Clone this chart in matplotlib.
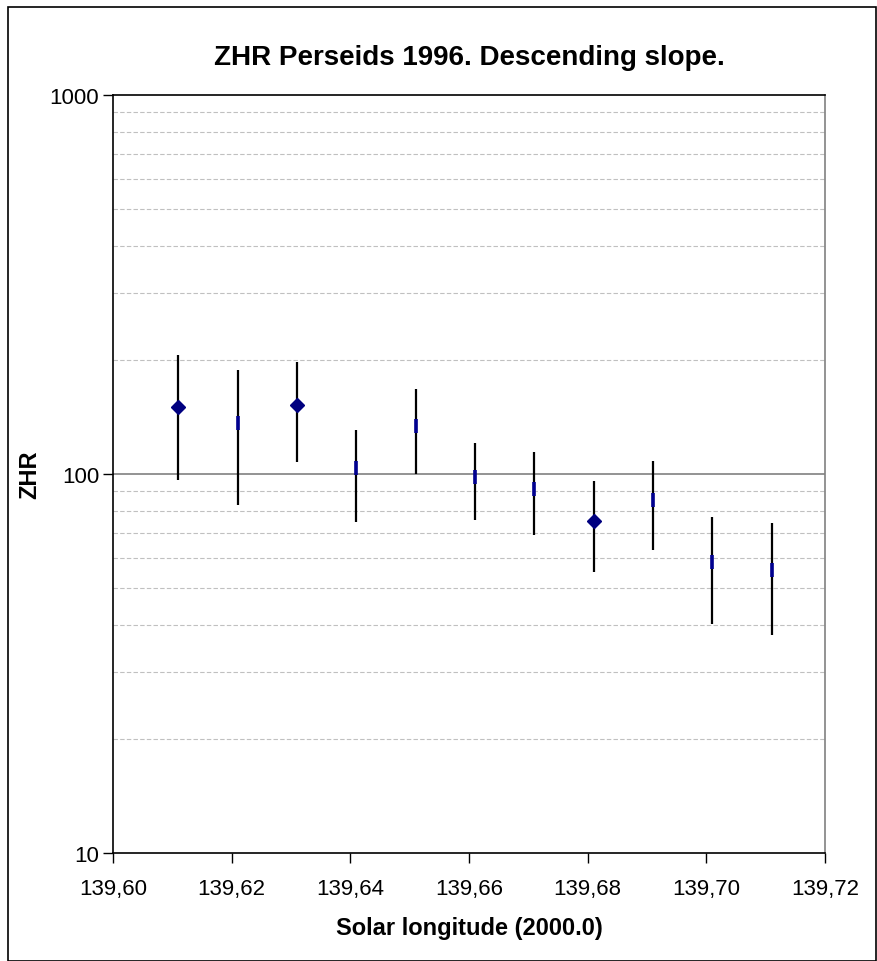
import matplotlib
matplotlib.use("Agg")
import matplotlib.pyplot as plt
from matplotlib.patches import Rectangle
from matplotlib.ticker import FixedLocator, FuncFormatter, NullFormatter

plt.rcParams["font.family"] = ["Liberation Sans", "DejaVu Sans"]

# solar longitude, ZHR, error bar ends
lon = [139.611, 139.621, 139.631, 139.641, 139.651, 139.661,
       139.671, 139.681, 139.691, 139.701, 139.711]
zhr = [150.3, 136.3, 152.4, 103.4, 133.8, 98.2, 91.3, 75.0, 85.4, 58.6, 55.8]
zhr_hi = [206, 188, 198, 131, 168, 121, 114, 96, 108, 77, 74.3]
zhr_lo = [96.4, 82.8, 107.4, 74.6, 100, 75.6, 69.0, 55.0, 63.1, 40.2, 37.7]
# points shown with a full diamond marker
big = [True, False, True, False, False, False, False, True, False, False, False]

xticks = [139.60, 139.62, 139.64, 139.66, 139.68, 139.70, 139.72]
yticks = [10, 100, 1000]
minor_y = [20, 30, 40, 50, 60, 70, 80, 90, 200, 300, 400, 500, 600, 700, 800, 900]

fig = plt.figure(figsize=(8.77, 9.62), dpi=100)
ax = fig.add_axes([113/877, 1 - 854/962, 712/877, 758/962])

ax.set_yscale("log")
ax.set_ylim(10, 1000)
ax.set_xlim(139.60, 139.72)

# gridlines
for v in minor_y:
    ax.axhline(v, color="#c0c0c0", lw=0.8, ls=(0, (4, 2)), zorder=0)
ax.axhline(100, color="#808080", lw=1.2, zorder=0)

# error bars
yerr = [[z - l for z, l in zip(zhr, zhr_lo)], [h - z for z, h in zip(zhr, zhr_hi)]]
ax.errorbar(lon, zhr, yerr=yerr, fmt="none", ecolor="black", elinewidth=1.6,
            capsize=0, zorder=2)
bx = [x for x, b in zip(lon, big) if b]
by = [y for y, b in zip(zhr, big) if b]
sx = [x for x, b in zip(lon, big) if not b]
sy = [y for y, b in zip(zhr, big) if not b]
ax.plot(bx, by, "D", color="#000080", ms=7.3, mec="#000080", zorder=3, ls="none")
ax.plot(sx, sy, "|", color="#000090", ms=10, mew=2.6, zorder=3, ls="none")

ax.yaxis.set_major_locator(FixedLocator(yticks))
ax.yaxis.set_minor_locator(FixedLocator(minor_y))
ax.yaxis.set_minor_formatter(NullFormatter())
ax.yaxis.set_major_formatter(FuncFormatter(lambda v, p: "%d" % v))
ax.set_xticks(xticks)
ax.xaxis.set_major_formatter(FuncFormatter(lambda v, p: ("%.2f" % v).replace(".", ",")))
ax.tick_params(axis="both", which="major", direction="out", length=7, width=1,
               labelsize=16, color="black")
ax.tick_params(axis="y", which="minor", length=0)
ax.tick_params(axis="x", pad=11)
ax.tick_params(axis="y", pad=3)

for s in ["left", "bottom", "top"]:
    ax.spines[s].set_color("black")
    ax.spines[s].set_linewidth(1.2)
ax.spines["right"].set_color("#808080")
ax.spines["right"].set_linewidth(1.2)

ax.set_title("ZHR Perseids 1996. Descending slope.", fontsize=20,
             fontweight="bold", pad=22)
ax.set_xlabel("Solar longitude (2000.0)", fontsize=17, fontweight="bold", labelpad=12)
ax.set_ylabel("ZHR", fontsize=17, fontweight="bold", labelpad=6)

fig.patches.append(Rectangle((8/877, 0), 868/877, 1 - 8/962, transform=fig.transFigure,
                             fill=False, edgecolor="black", lw=1.2))

fig.savefig("out.png", dpi=100)
